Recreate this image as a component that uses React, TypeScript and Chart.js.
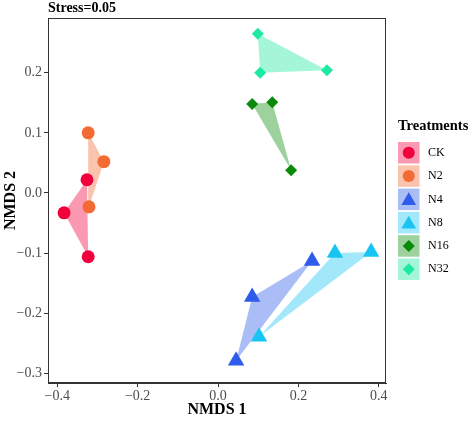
import React, { useEffect, useRef } from "react";
import { Chart, registerables } from "chart.js";

Chart.register(...registerables);

// ---- data ----
const treatments = ["CK", "N2", "N4", "N8", "N16", "N32"];
const ckX = [-0.326, -0.383, -0.323];
const ckY = [0.022, -0.033, -0.106];
const n2X = [-0.323, -0.284, -0.321];
const n2Y = [0.1, 0.052, -0.023];
const n4X = [0.234, 0.085, 0.045];
const n4Y = [-0.113, -0.173, -0.279];
const n8X = [0.291, 0.381, 0.102];
const n8Y = [-0.1, -0.098, -0.239];
const n16X = [0.085, 0.135, 0.182];
const n16Y = [0.148, 0.151, 0.038];
const n32X = [0.099, 0.105, 0.271];
const n32Y = [0.265, 0.2, 0.204];

const xTickValues = [-0.4, -0.2, 0.0, 0.2, 0.4];
const xTickLabels = ["\u22120.4", "\u22120.2", "0.0", "0.2", "0.4"];
const yTickValues = [-0.3, -0.2, -0.1, 0.0, 0.1, 0.2];
const yTickLabels = ["\u22120.3", "\u22120.2", "\u22120.1", "0.0", "0.1", "0.2"];
const xLimits = [-0.423, 0.418];
const yLimits = [-0.316, 0.291];
const stressLabel = "Stress=0.05";
const legendTitle = "Treatments";
const xTitle = "NMDS 1";
const yTitle = "NMDS 2";

// ---- styles ----
const SERIF = "'Liberation Serif', 'Times New Roman', serif";
const pointColors = ["#F2003C", "#F36A32", "#2E5BEB", "#18C5F2", "#098B09", "#1DE9A0"];
const hullAlpha = 0.4;
const shapes = ["circle", "circle", "triangle", "triangle", "rectRot", "rectRot"];
const markerRadius = [6.5, 6.5, 9.5, 9.5, 6, 6];
const legendRadius = [6, 6, 8.5, 8.5, 6, 6];

function hexToRgba(hex: string, a: number) {
  const n = parseInt(hex.slice(1), 16);
  return `rgba(${(n >> 16) & 255},${(n >> 8) & 255},${n & 255},${a})`;
}

const seriesX = [ckX, n2X, n4X, n8X, n16X, n32X];
const seriesY = [ckY, n2Y, n4Y, n8Y, n16Y, n32Y];

function drawMarker(ctx: CanvasRenderingContext2D, shape: string, x: number, y: number, r: number) {
  ctx.beginPath();
  if (shape === "circle") {
    ctx.arc(x, y, r, 0, Math.PI * 2);
  } else if (shape === "triangle") {
    for (let k = 0; k < 3; k++) {
      const a = (k * 2 * Math.PI) / 3;
      const px = x + Math.sin(a) * r;
      const py = y - Math.cos(a) * r;
      if (k === 0) ctx.moveTo(px, py);
      else ctx.lineTo(px, py);
    }
  } else {
    ctx.moveTo(x - r, y);
    ctx.lineTo(x, y - r);
    ctx.lineTo(x + r, y);
    ctx.lineTo(x, y + r);
  }
  ctx.closePath();
  ctx.fill();
}

const decorPlugin = {
  id: "decor",
  afterDraw(chart: any) {
    const ctx: CanvasRenderingContext2D = chart.ctx;
    const a = chart.chartArea;
    ctx.save();
    // panel border
    ctx.strokeStyle = "#333333";
    ctx.lineWidth = 1;
    ctx.strokeRect(Math.round(a.left) + 0.5, Math.round(a.top) + 0.5, Math.round(a.right - a.left) - 1, Math.round(a.bottom - a.top) - 1);

    // stress label
    ctx.fillStyle = "#000";
    ctx.font = `bold 14px ${SERIF}`;
    ctx.textAlign = "left";
    ctx.textBaseline = "middle";
    ctx.fillText(stressLabel, a.left, 8);

    // legend
    const lx = 398;
    const titleY = 126;
    ctx.font = `bold 14.5px ${SERIF}`;
    ctx.fillText(legendTitle, lx, titleY);
    const keySize = 21.5;
    const step = 23.3;
    const firstTop = 142;
    ctx.font = `12px ${SERIF}`;
    treatments.forEach((name, i) => {
      const top = firstTop + i * step;
      ctx.fillStyle = hexToRgba(pointColors[i], hullAlpha);
      ctx.fillRect(lx, top, keySize, keySize);
      ctx.fillStyle = pointColors[i];
      const cx = lx + keySize / 2;
      const cy = top + keySize / 2 + (shapes[i] === "triangle" ? 1.5 : 0);
      drawMarker(ctx, shapes[i], cx, cy, legendRadius[i]);
      ctx.fillStyle = "#000";
      ctx.fillText(name, 428, top + keySize / 2);
    });
    ctx.restore();
  },
};

export default function App() {
  const ref = useRef<HTMLCanvasElement | null>(null);

  useEffect(() => {
    document.body.style.margin = "0";
    if (!ref.current) return;

    const hullSets = treatments.map((name, i) => {
      const pts = seriesX[i].map((x, k) => ({ x, y: seriesY[i][k] }));
      return {
        type: "line" as const,
        label: name + " hull",
        data: [...pts, pts[0]],
        showLine: true,
        fill: "shape",
        backgroundColor: hexToRgba(pointColors[i], hullAlpha),
        borderWidth: 0,
        borderColor: "rgba(0,0,0,0)",
        pointRadius: 0,
        tension: 0,
        order: 2,
      };
    });
    const pointSets = treatments.map((name, i) => ({
      type: "scatter" as const,
      label: name,
      data: seriesX[i].map((x, k) => ({ x, y: seriesY[i][k] })),
      showLine: false,
      pointStyle: shapes[i],
      pointRadius: markerRadius[i],
      pointBackgroundColor: pointColors[i],
      pointBorderColor: pointColors[i],
      pointBorderWidth: 0,
      order: 1,
    }));

    const tickFont = { family: SERIF, size: 14 };
    const titleFont = { family: SERIF, size: 16, weight: "bold" as const };

    const chart = new Chart(ref.current, {
      type: "scatter",
      data: { datasets: [...hullSets, ...pointSets] as any },
      options: {
        animation: false,
        responsive: false,
        events: [],
        layout: { padding: { left: 0, top: 18, right: 88, bottom: 0 } },
        plugins: {
          legend: { display: false },
          tooltip: { enabled: false },
          title: { display: false },
        },
        scales: {
          x: {
            type: "linear",
            min: xLimits[0],
            max: xLimits[1],
            afterBuildTicks: (s: any) => {
              s.ticks = xTickValues.map((v) => ({ value: v }));
            },
            afterFit: (s: any) => {
              s.height = 38;
            },
            ticks: {
              font: tickFont,
              color: "#4D4D4D",
              padding: 1,
              maxRotation: 0,
              autoSkip: false,
              callback: (v: any) => {
                const idx = xTickValues.findIndex((t) => Math.abs(t - Number(v)) < 1e-9);
                return idx >= 0 ? xTickLabels[idx] : "";
              },
            },
            grid: { drawOnChartArea: false, drawTicks: true, tickLength: 4, color: "#333333" },
            border: { display: true, color: "#333333" },
            title: { display: true, text: xTitle, font: titleFont, color: "#000", padding: { top: 0, bottom: 2 } },
          },
          y: {
            type: "linear",
            min: yLimits[0],
            max: yLimits[1],
            afterBuildTicks: (s: any) => {
              s.ticks = yTickValues.map((v) => ({ value: v }));
            },
            afterFit: (s: any) => {
              s.width = 48;
            },
            ticks: {
              font: tickFont,
              color: "#4D4D4D",
              padding: 2,
              autoSkip: false,
              callback: (v: any) => {
                const idx = yTickValues.findIndex((t) => Math.abs(t - Number(v)) < 1e-9);
                return idx >= 0 ? yTickLabels[idx] : "";
              },
            },
            grid: { drawOnChartArea: false, drawTicks: true, tickLength: 4, color: "#333333" },
            border: { display: true, color: "#333333" },
            title: { display: true, text: yTitle, font: titleFont, color: "#000", padding: { top: 1, bottom: 0 } },
          },
        },
      },
      plugins: [decorPlugin],
    });
    return () => chart.destroy();
  }, []);

  return (
    <div style={{ width: 474, height: 421 }}>
      <canvas ref={ref} width={474} height={421} style={{ display: "block" }} />
    </div>
  );
}
